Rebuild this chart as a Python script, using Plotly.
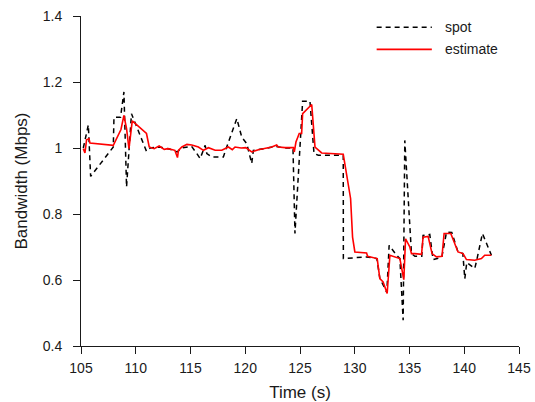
import plotly.graph_objects as go

# estimate (red) series
est_t = [105.21, 105.36, 105.51, 105.73, 105.82, 107.95, 108.65, 108.92, 109.16, 109.38,
         109.68, 110.98, 111.23, 111.68, 112.14, 112.60, 112.96, 113.57, 113.81, 113.90,
         114.21, 114.67, 115.12, 115.72, 116.18, 116.64, 117.25, 117.86, 118.46, 118.82,
         119.07, 119.62, 120.05, 120.59, 121.20, 121.81, 122.42, 122.87, 123.02, 123.63,
         124.39, 124.48, 124.63, 124.93, 125.15, 125.24, 126.07, 126.37, 126.98, 128.95,
         129.62, 129.80, 130.01, 131.08, 131.17, 132.05, 132.29, 132.59, 132.96, 133.21,
         134.12, 134.48, 134.64, 135.03, 135.18, 135.49, 136.10, 136.24, 136.70, 137.06,
         137.46, 137.97, 138.16, 138.77, 139.43, 139.89, 140.20, 140.96, 141.57, 141.87,
         142.48]
est_v = [0.998, 0.985, 1.025, 1.028, 1.015, 1.008, 1.056, 1.099, 1.059, 0.998,
         1.082, 1.044, 1.003, 0.998, 1.006, 0.996, 0.998, 0.993, 0.971, 0.993,
         1.003, 1.011, 1.009, 1.003, 0.993, 1.001, 0.993, 0.993, 1.003, 0.995,
         1.003, 1.000, 1.001, 0.988, 0.995, 0.998, 1.003, 1.009, 1.003, 1.001,
         1.001, 0.988, 1.018, 1.044, 1.044, 1.104, 1.132, 1.003, 0.985, 0.981,
         0.847, 0.730, 0.685, 0.682, 0.672, 0.665, 0.604, 0.594, 0.559, 0.675,
         0.665, 0.601, 0.725, 0.700, 0.680, 0.680, 0.678, 0.730, 0.732, 0.680,
         0.670, 0.672, 0.741, 0.741, 0.685, 0.680, 0.662, 0.660, 0.665, 0.675,
         0.675]

# spot (black dashed) series
spot_t = [105.21, 105.67, 105.88, 107.95, 108.01, 108.61, 108.92, 109.16, 109.61, 110.98,
          111.32, 112.23, 113.14, 113.78, 114.20, 115.10, 115.58, 115.88, 116.34, 116.49,
          116.95, 118.00, 118.31, 119.23, 119.68, 120.14, 120.59, 120.74, 121.81, 122.72,
          123.63, 124.36, 124.54, 125.24, 125.91, 126.28, 126.67, 128.95, 128.96, 131.08,
          132.02, 132.29, 132.93, 133.14, 133.82, 134.12, 134.42, 134.57, 135.18, 135.49,
          136.12, 136.24, 136.85, 137.15, 137.95, 138.38, 138.86, 139.41, 139.87, 140.05,
          140.23, 140.96, 141.14, 141.66, 142.48]
spot_v = [1.000, 1.070, 0.914, 1.003, 1.093, 1.093, 1.170, 0.882, 1.104, 0.990,
          1.000, 1.003, 0.996, 0.988, 1.000, 1.005, 0.983, 0.968, 1.008, 0.983,
          0.973, 0.973, 1.003, 1.089, 1.033, 1.013, 0.953, 0.993, 0.998, 1.005,
          1.000, 1.000, 0.741, 1.142, 1.142, 0.983, 0.978, 0.978, 0.665, 0.670,
          0.665, 0.605, 0.562, 0.705, 0.675, 0.665, 0.478, 1.023, 0.680, 0.672,
          0.672, 0.735, 0.738, 0.662, 0.669, 0.745, 0.744, 0.687, 0.680, 0.604,
          0.653, 0.635, 0.660, 0.741, 0.675]

x_ticks = [105, 110, 115, 120, 125, 130, 135, 140, 145]
y_ticks = [0.4, 0.6, 0.8, 1.0, 1.2, 1.4]
y_tick_labels = ["0.4", "0.6", "0.8", "1", "1.2", "1.4"]
series_names = ["spot", "estimate"]

FONT = "Liberation Sans, Arial, sans-serif"
INK = "#1a1a1a"

fig = go.Figure()
fig.add_trace(go.Scatter(x=spot_t, y=spot_v, mode="lines", name=series_names[0],
                         line=dict(color="black", width=1.5, dash="5px,4px")))
fig.add_trace(go.Scatter(x=est_t, y=est_v, mode="lines", name=series_names[1],
                         line=dict(color="#ff0000", width=1.6)))

# manual legend (R-style, no box)
leg_rows = [(0.966, "black", "5px,4px", series_names[0]),
            (0.899, "#ff0000", "solid", series_names[1])]
for yy, col, dsh, name in leg_rows:
    fig.add_shape(type="line", xref="paper", yref="paper", x0=0.675, x1=0.801, y0=yy, y1=yy,
                  line=dict(color=col, width=1.5 if col == "black" else 1.6, dash=dsh))
    fig.add_annotation(xref="paper", yref="paper", x=0.826, y=yy, text=name, showarrow=False,
                       xanchor="left", yanchor="middle", font=dict(family=FONT, size=14, color=INK))

fig.update_layout(
    width=535, height=402,
    margin=dict(l=80.7, r=15.7, t=15.7, b=56.3),
    paper_bgcolor="white", plot_bgcolor="white",
    showlegend=False,
    font=dict(family=FONT, size=14, color=INK),
)
fig.update_xaxes(range=[105, 145], tickvals=x_ticks, ticks="outside", ticklen=7, tickwidth=1,
                 tickcolor=INK, showline=True, linecolor=INK, linewidth=1, showgrid=False,
                 zeroline=False, tickfont=dict(size=14), ticklabelstandoff=2, automargin=False,
                 title=dict(text="Time (s)", font=dict(size=17), standoff=12))
fig.update_yaxes(range=[0.4, 1.4], tickvals=y_ticks, ticktext=y_tick_labels, ticks="outside",
                 ticklen=7, tickwidth=1, tickcolor=INK, showline=True, linecolor=INK, linewidth=1,
                 showgrid=False, zeroline=False, tickfont=dict(size=14), ticklabelstandoff=8,
                 automargin=False,
                 title=dict(text="Bandwidth (Mbps)", font=dict(size=17), standoff=10))

fig.write_html("out.html", config={"displayModeBar": False},
               post_script="document.body.style.margin='0';document.body.style.padding='0';"
                           "document.body.style.overflow='hidden';")
